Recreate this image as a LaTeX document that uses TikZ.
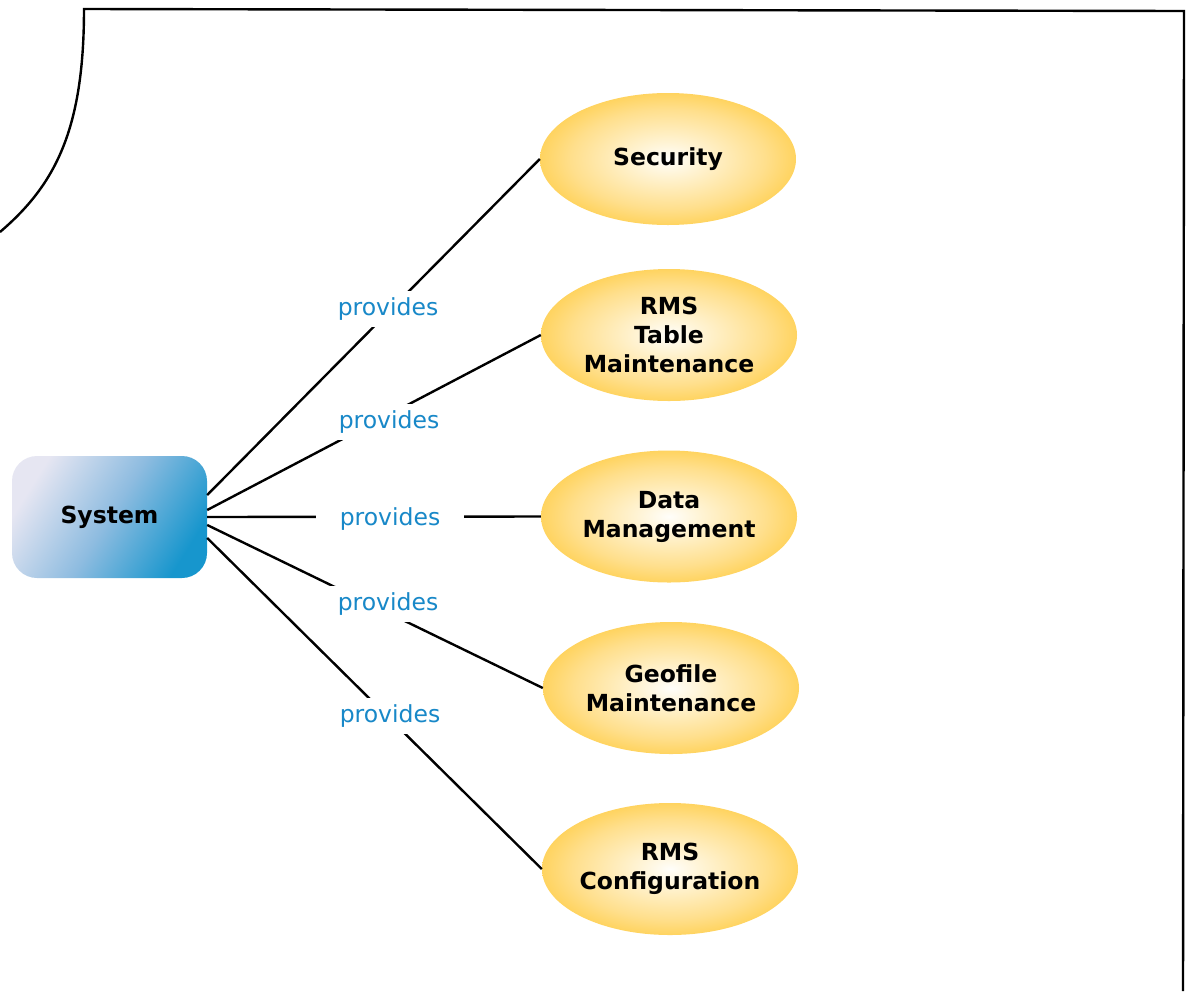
\documentclass[tikz,border=0pt]{standalone}
\usepackage{fontspec}
\newfontfamily\dv{DejaVu Sans}
\usetikzlibrary{shapes.geometric}
\definecolor{gold}{HTML}{FFC62C}
\definecolor{goldA}{HTML}{FFF4D6}
\definecolor{goldB}{HTML}{FFDF8C}
\definecolor{centerW}{HTML}{FFFEFA}
\definecolor{sysA}{HTML}{E6E6F2}
\definecolor{sysB}{HTML}{8EBCE0}
\definecolor{sysC}{HTML}{1796CD}
\definecolor{provblue}{HTML}{1888C8}
\pgfdeclareradialshading{goldshade}{\pgfpointorigin}{color(0bp)=(centerW); color(6bp)=(goldA); color(19bp)=(goldB); color(32bp)=(gold); color(50bp)=(gold)}
\tikzset{
  usecase/.style={ellipse, shading=goldshade, minimum width=256pt, minimum height=132pt, inner sep=0pt,
    align=center, font=\dv\bfseries\fontsize{23.5}{29}\selectfont},
  sysbox/.style={rectangle, rounded corners=25pt, shading=axis, top color=sysA, bottom color=sysC, middle color=sysB,
    shading angle=58, minimum width=195pt, minimum height=122pt,
    font=\dv\bfseries\fontsize{23.5}{29}\selectfont},
  conn/.style={draw=black, line width=2.4pt},
  rel/.style={fill=white, text=provblue, inner xsep=24pt, inner ysep=7pt, font=\dv\fontsize{23.5}{27}\selectfont},
  frame/.style={draw=black, line width=2.4pt}
}
\begin{document}
\begin{tikzpicture}[x=1pt,y=-1pt]
\useasboundingbox (0,0) rectangle (1190,991);
\draw[frame] (0,232) .. controls (55,185) and (84,130) .. (84,9) -- (1184,11) -- (1183,991);

\node[sysbox] (sys) at (109.5,517) {System};
\node[usecase] (sec) at (668,159) {Security};
\node[usecase] (rms) at (669,335) {RMS\\Table\\Maintenance};
\node[usecase] (dm) at (669,516.5) {Data\\Management};
\node[usecase] (geo) at (671,688) {Geofile\\Maintenance};
\node[usecase] (cfg) at (670,869) {RMS\\Configuration};

\draw[conn] ([yshift=22pt]sys.east) -- (sec.west);
\draw[conn] ([yshift=7pt]sys.east) -- (rms.west);
\draw[conn] (sys.east) -- (dm.west);
\draw[conn] ([yshift=-8pt]sys.east) -- (geo.west);
\draw[conn] ([yshift=-21pt]sys.east) -- (cfg.west);

\node[rel] (l1) at (388,309) {provides};
\node[rel] (l2) at (389,422) {provides};
\node[rel] (l3) at (390,519) {provides};
\node[rel] (l4) at (388,604) {provides};
\node[rel] (l5) at (390,716) {provides};
\end{tikzpicture}
\end{document}
